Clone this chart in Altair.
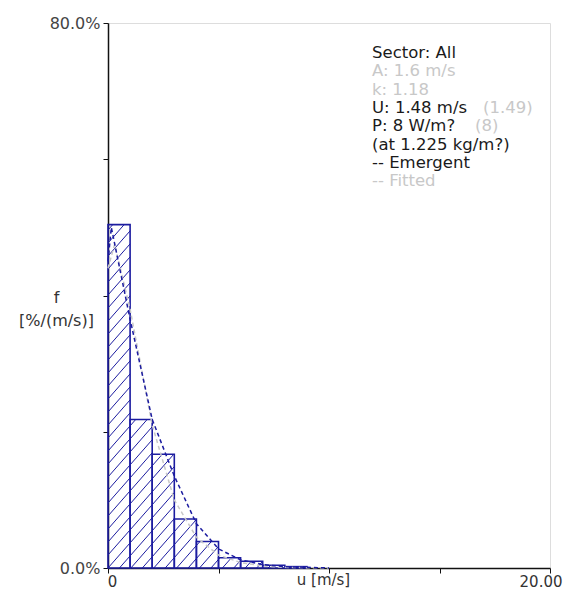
import altair as alt
import pandas as pd
import numpy as np

# ---- data ----
bin_start = [0, 1, 2, 3, 4, 5, 6, 7, 8]
bin_end = [1, 2, 3, 4, 5, 6, 7, 8, 9]
bin_freq = [50.4, 21.8, 16.7, 7.2, 3.9, 1.5, 1.0, 0.4, 0.2]

emergent_u = [0.0, 0.15, 1.0, 2.0, 3.0, 4.0, 5.0, 6.0, 7.0, 8.0, 9.0, 10.0]
emergent_f = [45.0, 50.0, 36.5, 21.8, 13.5, 6.5, 2.8, 1.2, 0.5, 0.2, 0.1, 0.0]

fitted_u = [0.0, 0.3, 1.0, 2.0, 3.0, 4.0, 5.0, 6.0, 7.0, 8.0, 9.0, 10.0]
fitted_f = [44.0, 47.5, 38.0, 21.0, 10.0, 4.5, 1.9, 0.8, 0.3, 0.1, 0.05, 0.0]

info_lines = ["Sector: All", "A: 1.6 m/s", "k: 1.18", "U: 1.48 m/s", "P: 8 W/m?",
              "(at 1.225 kg/m?)", "-- Emergent", "-- Fitted"]
info_grey = [False, True, True, False, False, False, False, True]
info_extra = {3: "(1.49)", 4: "(8)"}

x_ticks = [0, 5, 10, 15, 20]
y_ticks = [0, 20, 40, 60, 80]

# ---- layout / style ----
W, H = 442, 545
LEFT, TOP = 100, 15
NAVY = "#1c1ca0"
GREY = "#c8c8c8"
DARK = "#1a1a1a"
FONT = "DejaVu Sans"

bars = pd.DataFrame({"u0": bin_start, "u1": bin_end, "f": bin_freq})

# hatch segments derived from the bars ("/" direction)
px_u = W / 20.0
px_f = H / 80.0
slope = (25.0 / px_f) / (22.0 / px_u)   # % per m/s for a ~48 degree stroke
spacing = 13.0 / px_f                   # vertical spacing in %
segs = []
for u0, u1, h in zip(bin_start, bin_end, bin_freq):
    kmin = int(np.floor((slope * u0 - h) / spacing)) - 1
    kmax = int(np.ceil((slope * u1) / spacing)) + 1
    for k in range(kmin, kmax + 1):
        a, b = u0, u1
        if slope * a - k * spacing < 0:
            a = (k * spacing) / slope
        if slope * b - k * spacing > h:
            b = (h + k * spacing) / slope
        a = max(a, u0)
        b = min(b, u1)
        if b - a > 1e-6:
            segs.append({"x": a, "y": slope * a - k * spacing,
                         "x2": b, "y2": slope * b - k * spacing})
hatch = pd.DataFrame(segs)

xscale = alt.Scale(domain=[0, 20], nice=False, zero=False)
yscale = alt.Scale(domain=[0, 80], nice=False)

x_axis = alt.Axis(values=x_ticks,
                  labelExpr="datum.value == 0 ? '0' : (datum.value == 20 ? '20.00' : '')",
                  labelAlign={"condition": {"test": "datum.value == 20", "value": "right"},
                              "value": "center"},
                  labelOffset={"condition": {"test": "datum.value == 20", "value": 12},
                               "value": 4},
                  title="u [m/s]", titleFontWeight="normal", titleFont=FONT, titleFontSize=15,
                  titleColor="#333", titleX=W / 2 - 6, titleY=16, titleBaseline="alphabetic",
                  labelFont=FONT, labelFontSize=15, labelColor="#333", labelPadding=1,
                  tickSize=5, tickColor="#111", domainColor="#111", domainWidth=1.5,
                  grid=False, labelFlush=False)
y_axis = alt.Axis(values=y_ticks,
                  labelExpr="datum.value == 0 ? '0.0%' : (datum.value == 80 ? '80.0%' : '')",
                  title=["f", "[%/(m/s)]"], titleAngle=0, titleFontWeight="normal",
                  titleFont=FONT, titleFontSize=16, titleColor="#333", titleLineHeight=23,
                  titleX=-52, titleY=H / 2 + 2, titleAlign="center", titleBaseline="middle",
                  labelFont=FONT, labelFontSize=16, labelColor="#444", labelPadding=3,
                  tickSize=5, tickColor="#111", domainColor="#111", domainWidth=1.5,
                  grid=False)

base_bars = alt.Chart(bars).mark_rect(fill="white", fillOpacity=0, stroke=NAVY,
                                      strokeWidth=1.6).encode(
    x=alt.X("u0:Q", scale=xscale, axis=x_axis),
    x2="u1:Q",
    y=alt.Y("f:Q", scale=yscale, axis=y_axis),
    y2=alt.datum(0),
)

hatch_layer = alt.Chart(hatch).mark_rule(color=NAVY, strokeWidth=1).encode(
    x=alt.X("x:Q", scale=xscale), y=alt.Y("y:Q", scale=yscale),
    x2="x2:Q", y2="y2:Q",
)

fit_df = pd.DataFrame({"u": fitted_u, "f": fitted_f})
fit_layer = alt.Chart(fit_df).mark_line(color=GREY, strokeWidth=1.5,
                                        strokeDash=[4, 3]).encode(
    x=alt.X("u:Q", scale=xscale), y=alt.Y("f:Q", scale=yscale))

emg_df = pd.DataFrame({"u": emergent_u, "f": emergent_f})
emg_layer = alt.Chart(emg_df).mark_line(color=NAVY, strokeWidth=1.5,
                                        strokeDash=[4, 3]).encode(
    x=alt.X("u:Q", scale=xscale), y=alt.Y("f:Q", scale=yscale))

# annotation block
text_layers = []
tx = 372 - (8 + LEFT)
ty0 = 58 - (8 + TOP)
step = 18.3
for i, (s, g) in enumerate(zip(info_lines, info_grey)):
    text_layers.append(
        alt.Chart(pd.DataFrame({"t": [s]})).mark_text(
            align="left", baseline="alphabetic", font=FONT, fontSize=16.5,
            color=(GREY if g else DARK)).encode(
            x=alt.value(tx), y=alt.value(ty0 + i * step), text="t:N"))
extra_x = {3: 483 - (8 + LEFT), 4: 475 - (8 + LEFT)}
for i, s in info_extra.items():
    text_layers.append(
        alt.Chart(pd.DataFrame({"t": [s]})).mark_text(
            align="left", baseline="alphabetic", font=FONT, fontSize=16.5,
            color=GREY).encode(
            x=alt.value(extra_x[i]), y=alt.value(ty0 + i * step), text="t:N"))

chart = alt.layer(hatch_layer, base_bars, fit_layer, emg_layer, *text_layers).properties(
    width=W, height=H,
    autosize=alt.AutoSizeParams(type="none"),
    padding={"left": LEFT, "top": TOP, "right": 555 - LEFT - W, "bottom": 581 - TOP - H},
).configure_view(stroke=None).configure(background="white")

chart.save("out.html", embed_options={"renderer": "svg", "actions": False})
